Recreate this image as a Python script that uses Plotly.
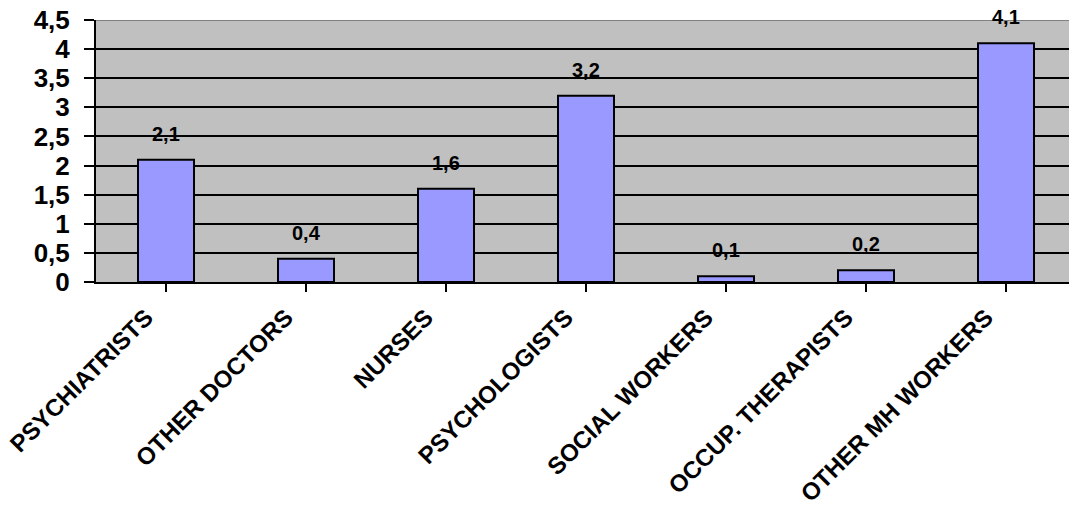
import plotly.graph_objects as go

categories = ["PSYCHIATRISTS", "OTHER DOCTORS", "NURSES", "PSYCHOLOGISTS",
              "SOCIAL WORKERS", "OCCUP. THERAPISTS", "OTHER MH WORKERS"]
values = [2.1, 0.4, 1.6, 3.2, 0.1, 0.2, 4.1]
y_tickvals = [0, 0.5, 1, 1.5, 2, 2.5, 3, 3.5, 4, 4.5]
y_ticktext = ["0", "0,5", "1", "1,5", "2", "2,5", "3", "3,5", "4", "4,5"]
value_labels = [f"{v:.1f}".replace(".", ",") for v in values]

FONT = "Arial, Liberation Sans, sans-serif"

fig = go.Figure()
fig.add_trace(go.Bar(
    x=list(range(len(categories))), y=values,
    marker=dict(color="#9999FF", line=dict(color="black", width=2)),
    hoverinfo="skip",
))

for i, (v, t) in enumerate(zip(values, value_labels)):
    fig.add_annotation(x=i, y=v, text=t, showarrow=False, yanchor="bottom",
                       yshift=13, font=dict(family=FONT, size=20, color="black", weight="bold"))

fig.add_shape(type="line", xref="paper", yref="y", x0=0, x1=1, y0=4.5, y1=4.5,
              line=dict(color="#808080", width=2), layer="above")

fig.update_layout(
    width=1069, height=508,
    margin=dict(l=96, r=0, t=20, b=226),
    paper_bgcolor="white", plot_bgcolor="#C0C0C0",
    bargap=0.6, showlegend=False,
    font=dict(family=FONT, color="black"),
    xaxis=dict(
        range=[-0.5, 6.5 - 7 / 140], automargin=False,
        tickvals=list(range(len(categories))), ticktext=categories,
        tickangle=-45, tickson="boundaries", ticks="outside", ticklen=8, tickwidth=2,
        tickcolor="black", showline=True, linecolor="black", linewidth=2,
        showgrid=False, zeroline=False,
        tickfont=dict(family=FONT, size=24, color="black", weight="bold"),
        ticklabelstandoff=2, ticklabelshift=-20,
    ),
    yaxis=dict(
        range=[0, 4.5], tickvals=y_tickvals, ticktext=y_ticktext, automargin=False,
        ticks="outside", ticklen=10, tickwidth=2, tickcolor="black",
        showline=True, linecolor="black", linewidth=2,
        showgrid=True, gridcolor="black", gridwidth=2, zeroline=False,
        tickfont=dict(family=FONT, size=26, color="black", weight="bold"),
        ticklabelstandoff=9,
    ),
)

fig.write_html("out.html")
